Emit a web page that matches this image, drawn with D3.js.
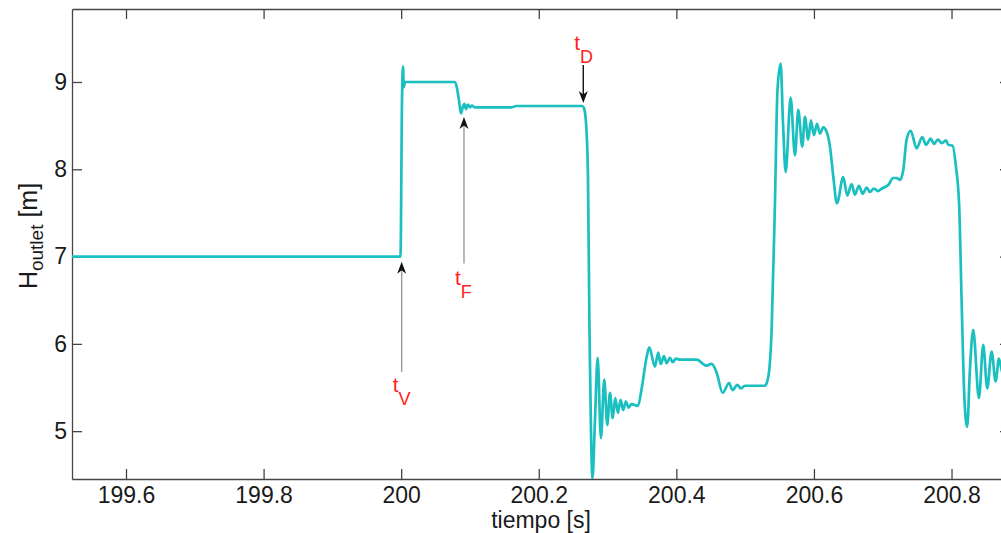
<!DOCTYPE html>
<html>
<head>
<meta charset="utf-8">
<script src="https://cdn.jsdelivr.net/npm/d3@7"></script>
<style>
  body { margin: 0; background: #fff; }
  .axis path, .axis line { stroke: #444; stroke-width: 1.3px; }
  .axis text { font-family: "Liberation Sans", Arial, sans-serif; font-size: 23px; fill: #1a1a1a; }
  .serie { fill: none; stroke: #1bbfbf; stroke-width: 2.7px; stroke-linejoin: round; }
  .lbl { font-family: "Liberation Sans", Arial, sans-serif; fill: #1a1a1a; }
  .marca { font-family: "Liberation Sans", Arial, sans-serif; fill: #ff2020; }
</style>
</head>
<body>
<div class="test"></div>
<script>
// tiempo [s] y altura en la salida [m]
var tiempo = [199.5215, 199.9990, 200.0012, 200.0026, 200.0038, 200.0055, 200.0782, 200.0811, 200.0840, 200.0869,
  200.0898, 200.0920, 200.0942, 200.0971, 200.1000, 200.1029, 200.1073, 200.1611, 200.1669, 200.2628,
  200.2657, 200.2686, 200.2715, 200.2737, 200.2759, 200.2781, 200.2817, 200.2856, 200.2904, 200.2952,
  200.2996, 200.3035, 200.3074, 200.3112, 200.3151, 200.3190, 200.3228, 200.3267, 200.3307, 200.3347,
  200.3442, 200.3496, 200.3568, 200.3606, 200.3689, 200.3737, 200.3772, 200.3820, 200.3859, 200.3907,
  200.3946, 200.3994, 200.4052, 200.4295, 200.4440, 200.4513, 200.4586, 200.4673, 200.4765, 200.4818,
  200.4885, 200.4939, 200.4997, 200.5288, 200.5336, 200.5385, 200.5433, 200.5470, 200.5516, 200.5549,
  200.5589, 200.5661, 200.5724, 200.5772, 200.5830, 200.5869, 200.5917, 200.5956, 200.6000, 200.6044,
  200.6087, 200.6135, 200.6185, 200.6233, 200.6281, 200.6334, 200.6426, 200.6484, 200.6548, 200.6596,
  200.6654, 200.6708, 200.6766, 200.6814, 200.6872, 200.6930, 200.6988, 200.7080, 200.7153, 200.7202,
  200.7250, 200.7298, 200.7347, 200.7406, 200.7493, 200.7574, 200.7628, 200.7696, 200.7744, 200.7802,
  200.7861, 200.7919, 200.7952, 200.8016, 200.8064, 200.8112, 200.8147, 200.8188, 200.8228, 200.8267,
  200.8315, 200.8398, 200.8461, 200.8519, 200.8583, 200.8641, 200.8689, 200.8747, 200.8805];
var hSalida = [7.00, 7.00, 8.79, 9.18, 8.94, 9.00, 9.00, 8.93, 8.79, 8.64,
  8.72, 8.75, 8.69, 8.74, 8.71, 8.73, 8.71, 8.71, 8.725, 8.725,
  8.70, 8.54, 7.93, 6.16, 5.01, 4.46, 5.13, 5.84, 4.92, 5.59,
  5.07, 5.44, 5.15, 5.38, 5.21, 5.36, 5.24, 5.34, 5.27, 5.31,
  5.29, 5.49, 5.85, 5.96, 5.74, 5.90, 5.77, 5.86, 5.78, 5.84,
  5.79, 5.83, 5.82, 5.82, 5.75, 5.77, 5.67, 5.44, 5.55, 5.47,
  5.53, 5.49, 5.52, 5.52, 5.62, 6.16, 7.61, 8.91, 9.21, 8.56,
  7.97, 8.82, 8.16, 8.68, 8.26, 8.60, 8.34, 8.56, 8.39, 8.52,
  8.41, 8.48, 8.43, 8.26, 7.92, 7.61, 7.91, 7.70, 7.83, 7.71,
  7.81, 7.72, 7.79, 7.74, 7.78, 7.75, 7.78, 7.82, 7.90, 7.90,
  7.88, 7.99, 8.34, 8.44, 8.24, 8.37, 8.28, 8.35, 8.29, 8.34,
  8.30, 8.33, 8.28, 8.27, 8.03, 7.57, 6.48, 5.36, 5.05, 5.70,
  6.16, 5.38, 5.99, 5.49, 5.91, 5.57, 5.83, 5.65, 5.78];

var xTicks = [199.6, 199.8, 200, 200.2, 200.4, 200.6, 200.8];
var yTicks = [5, 6, 7, 8, 9];
var xDominio = [199.5215, 200.885];
var yDominio = [4.452, 9.836];

// marcas t_V, t_F, t_D (instante y alturas de la flecha)
var marcaNombre = ['V', 'F', 'D'];
var marcaT = [200.0007, 200.0913, 200.2647];
var flechaDesde = [5.68, 6.92, 9.195];
var flechaHasta = [6.94, 8.60, 8.76];
var textoH = [5.45, 6.675, 9.37];

var ww = 1001, hh = 533
  , margin = {top: 9, right: 1010, bottom: 479, left: 72}
  , x = d3.scaleLinear().domain(xDominio).range([margin.left, margin.right])
  , y = d3.scaleLinear().domain(yDominio).range([margin.bottom, margin.top])
  , svg = d3.select('.test').append('svg').attr('width', ww).attr('height', hh);

svg.append('clipPath').attr('id', 'area')
  .append('rect')
  .attr('x', margin.left).attr('y', margin.top)
  .attr('width', margin.right - margin.left).attr('height', margin.bottom - margin.top);

// ejes con marcas hacia dentro, como en matlab
svg.append('g').attr('class', 'axis').attr('transform', `translate(0,${margin.bottom})`)
  .call(d3.axisBottom(x).tickValues(xTicks).tickSizeInner(-10).tickSizeOuter(0).tickPadding(8).tickFormat(d3.format('')));
svg.append('g').attr('class', 'axis').attr('transform', `translate(0,${margin.top})`)
  .call(d3.axisTop(x).tickValues(xTicks).tickSizeInner(-10).tickSizeOuter(0).tickFormat(''));
svg.append('g').attr('class', 'axis').attr('transform', `translate(${margin.left},0)`)
  .call(d3.axisLeft(y).tickValues(yTicks).tickSizeInner(-10).tickSizeOuter(0).tickPadding(5).tickFormat(d3.format('d')));
svg.append('g').attr('class', 'axis').attr('transform', `translate(${margin.right},0)`)
  .call(d3.axisRight(y).tickValues(yTicks).tickSizeInner(-10).tickSizeOuter(0).tickFormat(''));

var datos = tiempo.map((t, i) => ({t: t, h: hSalida[i]}));
var line = d3.line().x(d => x(d.t)).y(d => y(d.h)).curve(d3.curveMonotoneX);

svg.append('path')
  .datum(datos)
  .attr('class', 'serie')
  .attr('clip-path', 'url(#area)')
  .attr('d', line);

// flechas
marcaNombre.forEach(function(n, i) {
  var ax = x(marcaT[i]), y0 = y(flechaDesde[i]), y1 = y(flechaHasta[i])
    , dir = y1 < y0 ? 1 : -1
    , oscura = n == 'D';
  svg.append('line')
    .attr('x1', ax).attr('x2', ax)
    .attr('y1', y0).attr('y2', y1 + dir * 8)
    .style('stroke', oscura ? '#111' : '#9a9a9a')
    .style('stroke-width', 1.4);
  svg.append('path')
    .attr('d', `M${ax},${y1} L${ax - 4.5},${y1 + dir * 12} L${ax},${y1 + dir * 8.5} L${ax + 4.5},${y1 + dir * 12} Z`)
    .style('fill', '#111');
  var tx = svg.append('text').attr('class', 'marca')
    .attr('x', ax - 9).attr('y', y(textoH[i]));
  tx.append('tspan').style('font-size', '21px').text('t');
  tx.append('tspan').style('font-size', '18px').attr('dy', 13).text(n);
});

// titulos de ejes
svg.append('text').attr('class', 'lbl')
  .attr('x', 541).attr('y', 528)
  .attr('text-anchor', 'middle')
  .style('font-size', '23px')
  .text('tiempo [s]');

var ylab = svg.append('text').attr('class', 'lbl')
  .attr('transform', 'translate(37,236) rotate(-90)')
  .attr('text-anchor', 'middle')
  .style('font-size', '25px');
ylab.append('tspan').text('H');
ylab.append('tspan').attr('dy', 6).style('font-size', '19px').text('outlet');
ylab.append('tspan').attr('dy', -6).text(' [m]');
</script>
</body>
</html>
